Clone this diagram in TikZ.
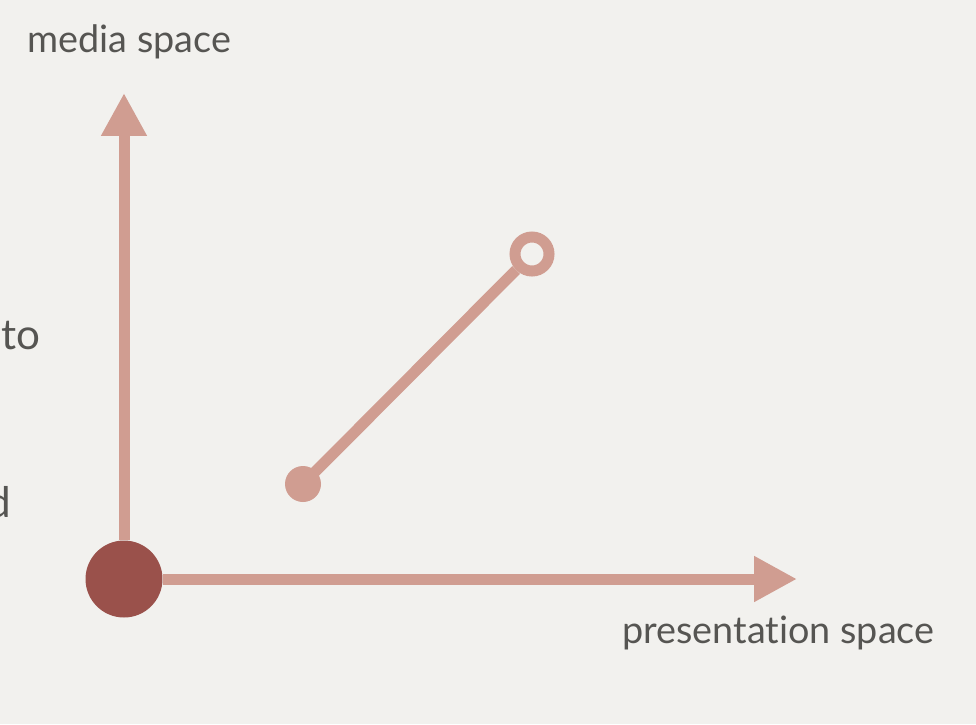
\documentclass[tikz,border=0pt]{standalone}
\usepackage{fontspec}
\setmainfont{Lato}[Ligatures=NoCommon]
\usetikzlibrary{arrows.meta}
\definecolor{paper}{HTML}{F2F1EE}
\definecolor{axis}{HTML}{D09D91}
\definecolor{origdot}{HTML}{9A514B}
\definecolor{ink}{HTML}{565552}
\tikzset{
  axisline/.style={line width=0.22cm, color=axis, -{Triangle[length=0.86cm,width=0.86cm]}},
  lbl/.style={text=ink, inner sep=0, font=\fontsize{21.5}{25}\selectfont},
}
\begin{document}
\begin{tikzpicture}[x=0.02cm, y=-0.02cm]
  \useasboundingbox (0,0) rectangle (976,724);
  \clip (0,0) rectangle (976,724);
  \fill[paper] (0,0) rectangle (976,724);
  % axes
  \node (origin) [circle, fill=origdot, minimum size=1.54cm, inner sep=0] at (124,579) {};
  \coordinate (ytip) at (124,93);
  \coordinate (xtip) at (797,579);
  \draw[axisline] (origin) -- (ytip);
  \draw[axisline] (origin) -- (xtip);
  % segment
  \node (p1) [circle, fill=axis, minimum size=0.72cm, inner sep=0] at (303,484) {};
  \node (p2) [circle, draw=axis, fill=paper, line width=0.22cm, minimum size=0.68cm, inner sep=0] at (532,254) {};
  \draw[line width=0.22cm, color=axis] (p1.center) -- (p2);
  % labels
  \node (n1) [lbl, anchor=base west] at (27,52) {media space};
  \node (n2) [lbl, anchor=base west] at (622,643) {presentation space};
  \node (n3) [lbl, anchor=base east, font=\fontsize{24}{28}\selectfont] at (41,349) {to};
  \node (n4) [lbl, anchor=base east, font=\fontsize{24}{28}\selectfont] at (11,517) {d};
\end{tikzpicture}
\end{document}
